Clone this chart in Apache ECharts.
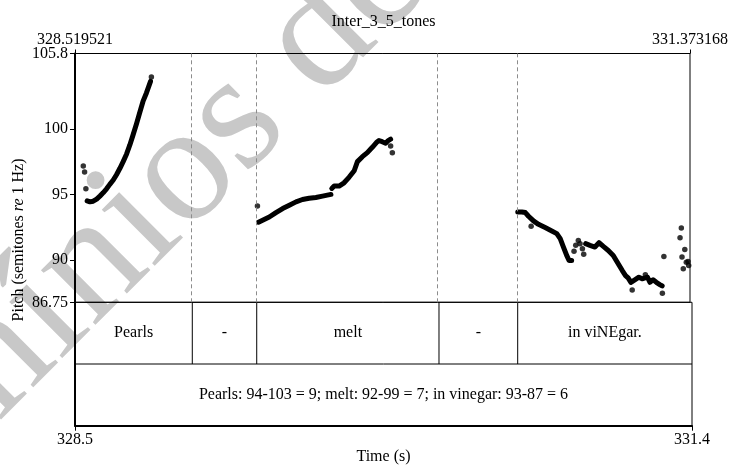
<!DOCTYPE html>
<html>
<head>
<meta charset="utf-8">
<script src="https://cdn.jsdelivr.net/npm/echarts@6.0.0/dist/echarts.min.js"></script>
<style>
  html, body { margin: 0; padding: 0; background: #fff; }
  #main { width: 731px; height: 466px; }
</style>
</head>
<body>
<div id="main"></div>
<script>
// time window and pitch range of the drawing
const tStart = 328.519521;
const tEnd = 331.373168;
const pitchMin = 86.75;
const pitchMax = 105.8;
const pitchTicks = [86.75, 90, 95, 100, 105.8];

// pitch track (s, semitones re 1 Hz)
const pearlsTime = [328.576, 328.589, 328.604, 328.620, 328.635, 328.650, 328.666, 328.681, 328.697, 328.712, 328.728, 328.743, 328.759, 328.774, 328.789, 328.805, 328.820, 328.835, 328.851, 328.863, 328.870];
const pearlsPitch = [94.52, 94.44, 94.49, 94.65, 94.88, 95.13, 95.44, 95.78, 96.11, 96.52, 97.01, 97.52, 98.11, 98.80, 99.57, 100.42, 101.28, 102.13, 102.78, 103.34, 103.67];

const meltTimeA = [329.371, 329.390, 329.421, 329.452, 329.483, 329.514, 329.545, 329.575, 329.606, 329.637, 329.668, 329.707];
const meltPitchA = [92.88, 93.03, 93.28, 93.62, 93.93, 94.18, 94.44, 94.62, 94.72, 94.78, 94.88, 95.01];
const meltTimeB = [329.711, 329.722, 329.745, 329.768, 329.791, 329.815, 329.830, 329.853, 329.876, 329.899, 329.918, 329.930, 329.945, 329.961, 329.973, 329.984];
const meltPitchB = [95.47, 95.65, 95.65, 95.90, 96.32, 96.82, 97.52, 97.90, 98.21, 98.62, 98.98, 99.13, 99.05, 98.93, 99.13, 99.24];

const vinegarTimeA = [330.574, 330.593, 330.609, 330.624, 330.647, 330.670, 330.701, 330.732, 330.755, 330.771, 330.786, 330.801, 330.812, 330.824];
const vinegarPitchA = [93.67, 93.67, 93.62, 93.34, 92.98, 92.72, 92.47, 92.21, 92.01, 91.62, 90.98, 90.34, 89.95, 89.95];
const vinegarTimeB = [330.889, 330.909, 330.932, 330.951, 330.971, 330.994, 331.017, 331.040, 331.059, 331.074, 331.086, 331.099, 331.117, 331.136, 331.151, 331.160, 331.176, 331.187, 331.202, 331.217, 331.233, 331.244];
const vinegarPitchB = [91.24, 91.11, 90.98, 91.32, 91.03, 90.72, 90.34, 89.70, 89.18, 88.80, 88.62, 88.28, 88.47, 88.67, 88.55, 88.42, 88.67, 88.28, 88.47, 88.28, 88.11, 88.00];

// loose points that are not part of a run
const strayTime = [328.558, 328.564, 328.570, 328.874, 329.366, 329.984, 329.992, 330.636, 330.835, 330.843, 330.855, 330.863, 330.874, 330.880, 331.105, 331.166, 331.245, 331.252, 331.327, 331.333, 331.336, 331.342, 331.349, 331.356, 331.364, 331.367];
const strayPitch = [97.18, 96.72, 95.44, 104.01, 94.13, 98.72, 98.21, 92.57, 90.65, 91.11, 91.49, 91.24, 90.85, 90.42, 87.70, 88.85, 87.44, 90.26, 91.70, 92.44, 90.21, 89.32, 90.80, 89.82, 89.88, 89.57];

// text grid
const tierTimes = [328.519521, 329.062, 329.360, 330.203, 330.567, 331.373168];
const tierWords = ['Pearls', '-', 'melt', '-', 'in viNEgar.'];
const noteText = 'Pearls: 94-103 = 9; melt: 92-99 = 7; in vinegar: 93-87 = 6';

const serif = '"Liberation Serif", "Times New Roman", serif';
const black = '#000';

function pairs(ts, ps) {
  return ts.map((t, i) => [t, ps[i]]);
}

// intervals: [start, end, row]; row 1 = words, row 0 = note
const intervals = [];
const intervalLabels = [];
for (let i = 0; i < tierWords.length; i++) {
  intervals.push([tierTimes[i], tierTimes[i + 1], 1]);
  intervalLabels.push(tierWords[i]);
}
intervals.push([tStart, tEnd, 0]);
intervalLabels.push(noteText);

function renderTier(params, api) {
  const s = api.value(0), e = api.value(1), r = api.value(2);
  const bl = api.coord([s, r]);
  const tr = api.coord([e, r + 1]);
  const children = [{
    type: 'text',
    style: {
      text: intervalLabels[params.dataIndex],
      x: (bl[0] + tr[0]) / 2,
      y: (bl[1] + tr[1]) / 2,
      align: 'center',
      verticalAlign: 'middle',
      fill: black,
      font: '16px ' + serif
    }
  }];
  if (s > tStart) {
    children.push({ type: 'line', shape: { x1: bl[0], y1: bl[1], x2: bl[0], y2: tr[1] }, style: { stroke: black, lineWidth: 1 } });
  }
  if (r === 0) {
    children.push({ type: 'line', shape: { x1: bl[0], y1: tr[1], x2: tr[0], y2: tr[1] }, style: { stroke: black, lineWidth: 1 } });
  }
  return { type: 'group', children: children };
}

const track = {
  type: 'line',
  xAxisIndex: 0,
  yAxisIndex: 0,
  showSymbol: false,
  lineStyle: { color: black, width: 5, cap: 'round', join: 'round' },
  z: 3
};

const labelFont = { fontFamily: serif, fontSize: 16, color: black };

const chart = echarts.init(document.getElementById('main'));
chart.setOption({
  animation: false,
  backgroundColor: '#fff',
  grid: [
    { left: 75, top: 53.5, width: 617, height: 248.8, show: true, borderColor: black, borderWidth: 1 },
    { left: 75, top: 302.3, width: 617, height: 123.4, show: true, borderColor: black, borderWidth: 1 }
  ],
  xAxis: [
    {
      type: 'value', gridIndex: 0, position: 'top', min: tStart, max: tEnd,
      axisLine: { show: true, lineStyle: { color: black, width: 1 } },
      axisTick: { show: true, customValues: [tStart, tEnd], length: 4, lineStyle: { color: black } },
      axisLabel: Object.assign({ customValues: [tStart, tEnd], formatter: v => v.toFixed(6), margin: 6 }, labelFont),
      splitLine: { show: false }
    },
    {
      type: 'value', gridIndex: 1, position: 'bottom', min: tStart, max: tEnd,
      axisLine: { show: true, lineStyle: { color: black, width: 2 } },
      axisTick: { show: true, customValues: [tStart, tEnd], length: 5, lineStyle: { color: black } },
      axisLabel: Object.assign({ customValues: [tStart, tEnd], formatter: v => v.toFixed(1), margin: 6 }, labelFont),
      splitLine: { show: false },
      name: 'Time (s)',
      nameLocation: 'middle',
      nameGap: 23,
      nameTextStyle: labelFont
    }
  ],
  yAxis: [
    {
      type: 'value', gridIndex: 0, min: pitchMin, max: pitchMax,
      axisLine: { show: true, lineStyle: { color: black, width: 2 } },
      axisTick: { show: true, customValues: pitchTicks, length: 5, lineStyle: { color: black } },
      axisLabel: Object.assign({ customValues: pitchTicks, formatter: v => String(v), margin: 7 }, labelFont),
      splitLine: { show: false }
    },
    {
      type: 'value', gridIndex: 1, min: 0, max: 2,
      axisLine: { show: true, lineStyle: { color: black, width: 2 } },
      axisTick: { show: false },
      axisLabel: { show: false },
      splitLine: { show: false }
    }
  ],
  graphic: {
    elements: [
      {
        // faint diagonal watermark behind the plot
        type: 'text', z: -10, x: -209, y: 567, rotation: Math.PI / 4,
        style: {
          text: 'Domínios de Lingu@gem', x: 0, y: 0, align: 'left', verticalAlign: 'middle',
          fill: '#c8c8c8', font: '168px ' + serif
        }
      },
      {
        type: 'text', x: 383.5, y: 22,
        style: { text: 'Inter_3_5_tones', align: 'center', verticalAlign: 'middle', fill: black, font: '16px ' + serif }
      },
      {
        type: 'text', x: 19, y: 240, rotation: Math.PI / 2,
        style: {
          text: '{a|Pitch (semitones }{b|re}{a| 1 Hz)}',
          align: 'center', verticalAlign: 'middle',
          rich: {
            a: { fontFamily: serif, fontSize: 16, fill: black },
            b: { fontFamily: serif, fontSize: 16, fontStyle: 'italic', fill: black }
          }
        }
      }
    ]
  },
  series: [
    Object.assign({}, track, {
      data: pairs(pearlsTime, pearlsPitch),
      markLine: {
        silent: true,
        symbol: ['none', 'none'],
        label: { show: false },
        lineStyle: { color: '#8c8c8c', type: [4, 3], width: 1 },
        data: tierTimes.slice(1, -1).map(t => ({ xAxis: t }))
      }
    }),
    Object.assign({}, track, { data: pairs(meltTimeA, meltPitchA) }),
    Object.assign({}, track, { data: pairs(meltTimeB, meltPitchB) }),
    Object.assign({}, track, { data: pairs(vinegarTimeA, vinegarPitchA) }),
    Object.assign({}, track, { data: pairs(vinegarTimeB, vinegarPitchB) }),
    {
      type: 'scatter', xAxisIndex: 0, yAxisIndex: 0, z: 3,
      symbolSize: 5.5,
      itemStyle: { color: black },
      data: pairs(strayTime, strayPitch)
    },
    {
      type: 'custom', xAxisIndex: 1, yAxisIndex: 1,
      renderItem: renderTier,
      encode: { x: [0, 1], y: 2 },
      data: intervals
    }
  ]
});
</script>
</body>
</html>
